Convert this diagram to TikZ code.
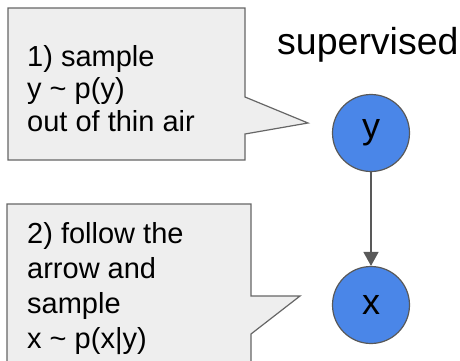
\documentclass[tikz,border=0pt]{standalone}
\usepackage{fontspec}
\setmainfont{Liberation Sans}
\usetikzlibrary{arrows.meta}
\definecolor{calloutfill}{HTML}{EEEEEE}
\definecolor{calloutline}{HTML}{666666}
\definecolor{nodeblue}{HTML}{4A86E8}
\definecolor{edgegray}{HTML}{595959}
\tikzset{
  callout/.style={fill=calloutfill, draw=calloutline, line width=1.2pt, line join=miter},
  calltext/.style={anchor=base west, inner sep=0pt, align=left},
  var/.style={circle, minimum size=77pt, inner sep=0pt, fill=nodeblue,
    draw=edgegray, line width=1.2pt, font=\fontsize{36}{40}\selectfont},
  edge/.style={draw=edgegray, line width=1.5pt, -{Triangle[length=14pt,width=15pt]}}
}
\begin{document}
\begin{tikzpicture}[x=1pt, y=-1pt]
  \useasboundingbox (0,0) rectangle (460,360);
  \clip (0,0) rectangle (460,360);
  % speech bubbles
  \path[callout] (8,8) -- (245,8) -- (245,97) -- (308,123) -- (245,134)
    -- (245,160) -- (8,160) -- cycle;
  \path[callout] (7,204) -- (251,204) -- (251,296) -- (300,296) -- (251,334)
    -- (251,370) -- (7,370) -- cycle;
  % the base anchor of a multi-line node sits on its last line
  \node[calltext, font=\fontsize{29}{32.5}\selectfont] (t1) at (27,131)
    {1) sample\\y \textasciitilde{} p(y)\\out of thin air};
  \node[calltext, font=\fontsize{29}{34.7}\selectfont] (t2) at (27,348)
    {2) follow the\\arrow and\\sample\\x \textasciitilde{} p(x|y)};
  % title
  \node[anchor=base west, inner sep=0pt, font=\fontsize{37.5}{40}\selectfont] (title) at (277,54) {supervised};
  % graphical model
  \node[var] (y) at (371,133) {y};
  \node[var] (x) at (371,305) {x};
  \draw[edge] (y) -- (x);
\end{tikzpicture}
\end{document}
